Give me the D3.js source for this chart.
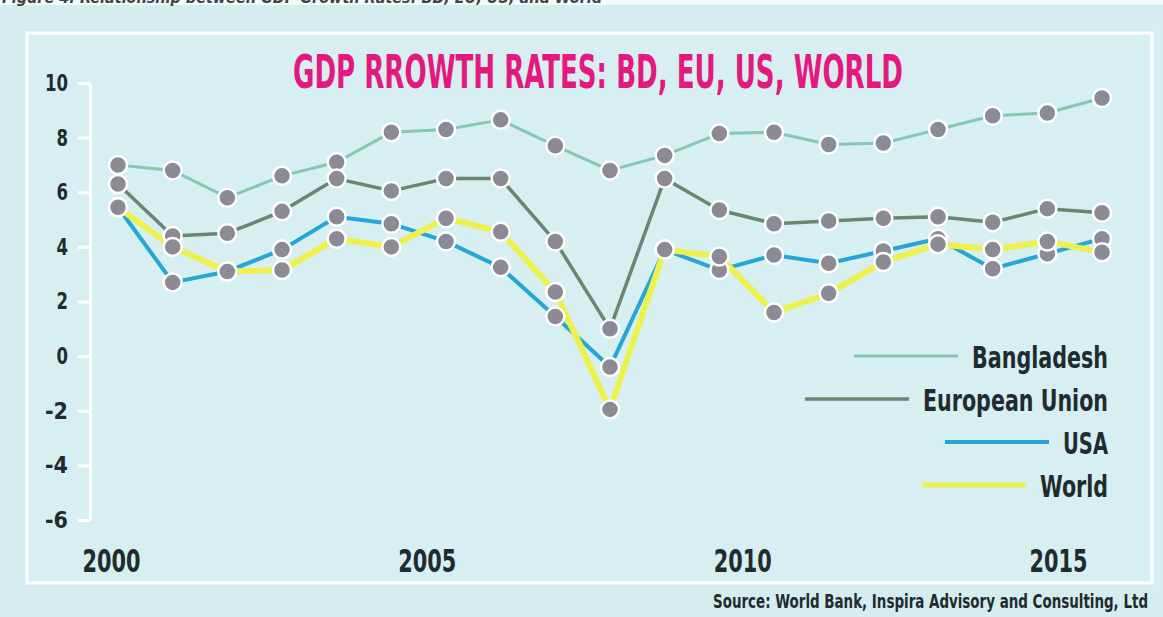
<!DOCTYPE html>
<html>
<head>
<meta charset="utf-8">
<script src="https://cdn.jsdelivr.net/npm/d3@7"></script>
<style>
  body { margin: 0; background: #d5edef; }
  text { font-family: "Liberation Sans Narrow", "DejaVu Sans Condensed", "Roboto Condensed", sans-serif; }
</style>
</head>
<body>
<div id="chart"></div>
<script>
// observations as plotted (one point per period)
var periods = [1, 2, 3, 4, 5, 6, 7, 8, 9, 10, 11, 12, 13, 14, 15, 16, 17, 18, 19];
var bangladesh = [7.0, 6.8, 5.8, 6.6, 7.1, 8.2, 8.3, 8.65, 7.7, 6.8, 7.35, 8.15, 8.2, 7.75, 7.8, 8.3, 8.8, 8.9, 9.45];
var europeanUnion = [6.3, 4.4, 4.5, 5.3, 6.5, 6.05, 6.5, 6.5, 4.2, 1.0, 6.5, 5.35, 4.85, 4.95, 5.05, 5.1, 4.9, 5.4, 5.25];
var usa = [5.45, 2.7, 3.1, 3.9, 5.1, 4.85, 4.2, 3.25, 1.45, -0.4, 3.9, 3.15, 3.7, 3.4, 3.85, 4.3, 3.2, 3.75, 4.3];
var world = [5.45, 4.0, 3.1, 3.15, 4.3, 4.0, 5.05, 4.55, 2.35, -1.95, 3.9, 3.65, 1.6, 2.3, 3.45, 4.1, 3.9, 4.2, 3.8];

var seriesNames = ["Bangladesh", "European Union", "USA", "World"];
var yTicks = [-6, -4, -2, 0, 2, 4, 6, 8, 10];
var yearTicks = [2000, 2005, 2010, 2015];

var lineColors = ["#84c9ae", "#6a8571", "#24a7d7", "#eef04c"];
var lineWidths = [3, 3.5, 4, 6];
var legendWidths = [136, 185, 45, 68];

var svgWidth = 1163;
var svgHeight = 617;

var svg = d3.select("#chart")
  .append("svg")
  .attr("width", svgWidth)
  .attr("height", svgHeight);

// background + caption strip
svg.append("rect").attr("width", svgWidth).attr("height", svgHeight).attr("fill", "#d5edef");
svg.append("rect").attr("width", svgWidth).attr("height", 5).attr("fill", "#f4fafa");
svg.append("text")
  .attr("x", 2)
  .attr("y", 3)
  .attr("font-size", 16)
  .attr("font-style", "italic")
  .attr("font-weight", "bold")
  .attr("fill", "#444")
  .attr("textLength", 600)
  .attr("lengthAdjust", "spacingAndGlyphs")
  .text("Figure 4: Relationship between GDP Growth Rates: BD, EU, US, and World");

// panel with white frame
svg.append("rect")
  .attr("x", 27)
  .attr("y", 33)
  .attr("width", 1125)
  .attr("height", 550)
  .attr("fill", "#d7eff1")
  .attr("stroke", "#ffffff")
  .attr("stroke-width", 3);

var x = d3.scalePoint().domain(periods).range([118, 1102]);
var y = d3.scaleLinear().domain([-6, 10]).range([520, 83]);
var yearScale = d3.scaleLinear().domain([2000, 2015]).range([111, 1058]);

// y axis
var leftAxis = d3.axisLeft(y)
  .tickValues(yTicks)
  .tickSize(12)
  .tickSizeOuter(0)
  .tickPadding(10)
  .tickFormat(function (d) { return String(d); });

var yAxis = svg.append("g")
  .attr("transform", "translate(90, 0)")
  .call(leftAxis);
yAxis.select(".domain").attr("stroke", "#ffffff").attr("stroke-width", 3);
yAxis.selectAll(".tick line").attr("stroke", "#ffffff").attr("stroke-width", 3);
yAxis.selectAll(".tick text")
  .attr("font-size", 23)
  .attr("font-weight", "bold")
  .attr("fill", "#1f2b2f")
  .attr("textLength", function (d) { return String(d).length * 11.5; })
  .attr("lengthAdjust", "spacingAndGlyphs");

// x axis (labels only)
var bottomAxis = d3.axisBottom(yearScale)
  .tickValues(yearTicks)
  .tickSize(0)
  .tickPadding(0)
  .tickFormat(d3.format("d"));

var xAxis = svg.append("g")
  .attr("transform", "translate(0, 549)")
  .call(bottomAxis);
xAxis.select(".domain").remove();
xAxis.selectAll(".tick text")
  .attr("font-size", 32)
  .attr("font-weight", "bold")
  .attr("fill", "#1f2b2f")
  .attr("textLength", 58)
  .attr("lengthAdjust", "spacingAndGlyphs");
svg.selectAll("g").attr("font-family", null);

// title
svg.append("text")
  .attr("x", 598)
  .attr("y", 88)
  .attr("text-anchor", "middle")
  .attr("font-size", 46)
  .attr("font-weight", "bold")
  .attr("fill", "#e3197f")
  .attr("textLength", 610)
  .attr("lengthAdjust", "spacingAndGlyphs")
  .text("GDP RROWTH RATES: BD, EU, US, WORLD");

var allSeries = [bangladesh, europeanUnion, usa, world];

var line = d3.line()
  .x(function (d, i) { return x(periods[i]); })
  .y(function (d) { return y(d); });

allSeries.forEach(function (values, k) {
  svg.append("path")
    .datum(values)
    .attr("fill", "none")
    .attr("stroke", lineColors[k])
    .attr("stroke-width", lineWidths[k])
    .attr("stroke-linejoin", "round")
    .attr("d", line);
});

allSeries.forEach(function (values) {
  svg.append("g")
    .selectAll("circle")
    .data(values)
    .enter()
    .append("circle")
    .attr("cx", function (d, i) { return x(periods[i]); })
    .attr("cy", function (d) { return y(d); })
    .attr("r", 9)
    .attr("fill", "#8c8a95")
    .attr("stroke", "#ffffff")
    .attr("stroke-width", 2.5);
});

// legend
var legend = svg.append("g");
seriesNames.forEach(function (name, i) {
  var baseY = 368 + 43 * i;
  var w = legendWidths[i];
  legend.append("text")
    .attr("x", 1108)
    .attr("y", baseY)
    .attr("text-anchor", "end")
    .attr("font-size", 30)
    .attr("font-weight", "bold")
    .attr("fill", "#1f2b2f")
    .attr("textLength", w)
    .attr("lengthAdjust", "spacingAndGlyphs")
    .text(name);
  legend.append("line")
    .attr("x1", 1108 - w - 118)
    .attr("x2", 1108 - w - 14)
    .attr("y1", baseY - 12)
    .attr("y2", baseY - 12)
    .attr("stroke", lineColors[i])
    .attr("stroke-width", lineWidths[i] > 4 ? 5 : lineWidths[i]);
});

// source
svg.append("text")
  .attr("x", 1148)
  .attr("y", 608)
  .attr("text-anchor", "end")
  .attr("font-size", 19)
  .attr("font-weight", "bold")
  .attr("fill", "#1f2b2f")
  .attr("textLength", 435)
  .attr("lengthAdjust", "spacingAndGlyphs")
  .text("Source: World Bank, Inspira Advisory and Consulting, Ltd");
</script>
</body>
</html>
